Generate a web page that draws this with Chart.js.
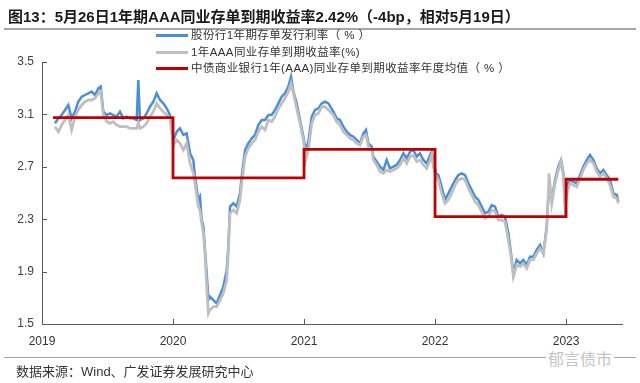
<!DOCTYPE html>
<html><head><meta charset="utf-8">
<script src="https://cdn.jsdelivr.net/npm/chart.js@4.4.0/dist/chart.umd.min.js"></script>
<style>
html,body{margin:0;padding:0;background:#fff;}
#wrap{position:relative;width:640px;height:383px;overflow:hidden;font-family:"Liberation Sans","Noto Sans CJK SC",sans-serif;color:#222;}
canvas{position:absolute;left:0;top:0;}
#title{position:absolute;left:8px;top:7px;line-height:20px;font-size:15px;font-weight:bold;white-space:nowrap;color:#1a1a1a;}
.rule{position:absolute;left:4px;width:632px;background:#A6A6A6;}
#legend{position:absolute;left:156px;top:27px;font-size:11.5px;letter-spacing:0.4px;color:#333;}
#legend .row{height:16.7px;line-height:16.7px;display:flex;align-items:center;white-space:pre;}
#legend .sw{display:inline-block;width:32px;height:3px;margin-right:3px;}
#source{position:absolute;left:16px;top:363px;font-size:13px;line-height:18px;color:#333;white-space:nowrap;}
#wm{position:absolute;left:546px;top:350px;font-size:16px;line-height:20px;color:#C4C4C4;background:#fff;padding:0 2px;}
</style></head><body>
<div id="wrap">
<canvas id="c" width="640" height="383"></canvas>
<div id="title">图13：5月26日1年期AAA同业存单到期收益率2.42%（-4bp，相对5月19日）</div>
<div class="rule" style="top:28px;height:2px"></div>
<div id="legend"></div>
<div class="rule" style="top:357px;height:1px"></div>
<div id="source">数据来源：Wind、广发证券发展研究中心</div>
<div id="wm">郁言债市</div>
</div>
<script>
const dates = [
2019.099,2019.125,2019.150,2019.176,2019.201,2019.226,2019.252,2019.277,2019.303,2019.328,
2019.354,2019.379,2019.405,2019.430,2019.448,2019.468,2019.494,2019.519,2019.545,2019.570,
2019.595,2019.621,2019.646,2019.672,2019.697,2019.723,2019.735,2019.748,2019.774,2019.799,
2019.824,2019.850,2019.875,2019.901,2019.926,2019.952,2019.977,2020.003,2020.028,2020.053,
2020.079,2020.104,2020.130,2020.155,2020.168,2020.193,2020.206,2020.219,2020.232,2020.244,
2020.257,2020.270,2020.282,2020.308,2020.333,2020.359,2020.384,2020.410,2020.422,2020.435,
2020.461,2020.486,2020.511,2020.524,2020.550,2020.575,2020.601,2020.626,2020.651,2020.677,
2020.702,2020.728,2020.753,2020.779,2020.804,2020.830,2020.855,2020.880,2020.901,2020.919,
2020.944,2020.969,2020.995,2021.013,2021.033,2021.059,2021.084,2021.109,2021.135,2021.160,
2021.186,2021.224,2021.249,2021.275,2021.300,2021.326,2021.351,2021.377,2021.402,2021.427,
2021.453,2021.473,2021.491,2021.517,2021.529,2021.555,2021.580,2021.606,2021.631,2021.656,
2021.682,2021.707,2021.733,2021.758,2021.784,2021.809,2021.835,2021.860,2021.885,2021.911,
2021.936,2021.962,2021.975,2021.987,2022.008,2022.025,2022.051,2022.076,2022.102,2022.127,
2022.153,2022.178,2022.204,2022.229,2022.254,2022.280,2022.305,2022.331,2022.356,2022.382,
2022.407,2022.433,2022.458,2022.483,2022.509,2022.534,2022.560,2022.580,2022.598,2022.623,
2022.649,2022.674,2022.700,2022.725,2022.751,2022.776,2022.802,2022.827,2022.852,2022.865,
2022.870,2022.891,2022.916,2022.941,2022.962,2022.980,2022.992,2023.013,2023.031,2023.056,
2023.081,2023.107,2023.132,2023.158,2023.183,2023.209,2023.234,2023.260,2023.285,2023.310,
2023.336,2023.361,2023.387,2023.399];
const blueValues = [
3.032,3.070,3.095,3.134,3.172,3.070,3.121,3.197,3.235,3.248,
3.261,3.274,3.248,3.299,3.312,3.121,3.095,3.108,3.095,3.083,
3.121,3.070,3.083,3.070,3.070,3.057,3.363,3.057,3.070,3.108,
3.159,3.197,3.261,3.210,3.184,3.146,3.095,2.905,2.968,2.994,
2.943,2.955,2.803,2.752,2.625,2.447,2.472,2.294,2.243,2.065,
1.887,1.683,1.709,1.683,1.658,1.721,1.785,1.912,2.090,2.396,
2.421,2.396,2.497,2.625,2.828,2.879,2.917,2.943,3.019,3.057,
3.057,3.095,3.095,3.134,3.184,3.235,3.261,3.312,3.388,3.274,
3.184,3.057,2.930,2.828,2.892,3.083,3.134,3.146,3.184,3.197,
3.184,3.121,3.070,3.057,3.006,2.968,2.943,2.930,2.905,2.879,
2.955,2.981,2.879,2.854,2.777,2.739,2.701,2.676,2.752,2.688,
2.701,2.714,2.752,2.803,2.765,2.816,2.828,2.777,2.803,2.752,
2.726,2.790,2.816,2.752,2.650,2.637,2.548,2.447,2.497,2.548,
2.599,2.637,2.650,2.637,2.574,2.523,2.472,2.447,2.396,2.345,
2.358,2.408,2.396,2.319,2.332,2.319,2.192,2.039,1.887,1.989,
1.963,1.989,1.950,2.014,2.014,2.065,2.103,2.039,2.243,2.472,
2.497,2.447,2.599,2.701,2.752,2.650,2.421,2.574,2.599,2.586,
2.574,2.637,2.701,2.752,2.790,2.752,2.688,2.650,2.676,2.637,
2.599,2.497,2.485,2.434];
const grayValues = [
3.006,2.968,3.019,3.057,3.095,2.981,3.083,3.134,3.172,3.197,
3.210,3.210,3.223,3.261,3.274,3.095,3.045,3.032,3.045,3.019,
3.006,3.006,3.006,2.994,2.994,2.994,3.032,2.994,3.006,3.032,
3.083,3.121,3.184,3.146,3.121,3.095,3.070,2.866,2.905,2.879,
2.828,2.879,2.726,2.650,2.574,2.396,2.370,2.268,2.192,2.039,
1.785,1.581,1.607,1.632,1.632,1.683,1.734,1.836,2.039,2.345,
2.370,2.345,2.447,2.574,2.777,2.841,2.879,2.905,2.968,3.006,
2.981,3.057,3.045,3.083,3.146,3.184,3.223,3.274,3.337,3.261,
3.146,3.032,2.905,2.752,2.828,3.032,3.095,3.108,3.159,3.159,
3.134,3.095,3.045,3.019,2.968,2.943,2.917,2.905,2.879,2.866,
2.930,2.943,2.854,2.828,2.752,2.714,2.663,2.650,2.676,2.663,
2.676,2.688,2.714,2.765,2.726,2.777,2.790,2.739,2.752,2.714,
2.688,2.752,2.790,2.701,2.625,2.599,2.497,2.421,2.447,2.497,
2.561,2.599,2.612,2.599,2.536,2.485,2.434,2.408,2.358,2.307,
2.319,2.370,2.358,2.294,2.294,2.281,2.141,2.014,1.861,1.950,
1.938,1.963,1.925,1.989,1.989,2.039,2.078,2.039,2.218,2.497,
2.650,2.421,2.574,2.676,2.739,2.625,2.396,2.523,2.574,2.561,
2.548,2.612,2.676,2.726,2.752,2.726,2.663,2.625,2.650,2.612,
2.561,2.472,2.459,2.421];
const avgYears = [2019, 2020, 2021, 2022, 2023];
const avgValues = [3.075, 2.615, 2.833, 2.319, 2.605];
const xTicks = [2019, 2020, 2021, 2022, 2023];
const yTicks = [1.5, 1.9, 2.3, 2.7, 3.1, 3.5];
const seriesLabels = [
  '股份行1年期存单发行利率（ % ）',
  '1年AAA同业存单到期收益率(%)',
  '中债商业银行1年(AAA)同业存单到期收益率年度均值（ % ）'
];
const seriesColors = ['#4A8FD6', '#BFBFBF', '#C00000'];

const bluePts = dates.map((d, i) => ({x: d, y: blueValues[i]}));
const grayPts = dates.map((d, i) => ({x: d, y: grayValues[i]}));
const avgPts = [];
avgYears.forEach((yr, i) => {
  const start = i === 0 ? dates[0] - 0.015 : yr;
  const end = i === avgYears.length - 1 ? dates[dates.length - 1] : yr + 1;
  avgPts.push({x: start, y: avgValues[i]}, {x: end, y: avgValues[i]});
});

// legend
const lg = document.getElementById('legend');
seriesLabels.forEach((t, i) => {
  const r = document.createElement('div'); r.className = 'row';
  const s = document.createElement('span'); s.className = 'sw'; s.style.background = seriesColors[i];
  const tx = document.createElement('span'); tx.textContent = t;
  r.appendChild(s); r.appendChild(tx); lg.appendChild(r);
});

const inwardTicks = {
  id: 'inwardTicks',
  afterDraw(chart) {
    const {ctx, chartArea: a, scales: {x, y}} = chart;
    ctx.save();
    ctx.strokeStyle = '#595959'; ctx.lineWidth = 1;
    ctx.beginPath();
    xTicks.forEach(v => { const px = Math.round(x.getPixelForValue(v)) + 0.5; ctx.moveTo(px, a.bottom); ctx.lineTo(px, a.bottom - 5); });
    yTicks.forEach(v => { const py = Math.round(y.getPixelForValue(v)) + 0.5; ctx.moveTo(a.left, py); ctx.lineTo(a.left + 5, py); });
    ctx.stroke();
    ctx.restore();
  }
};

new Chart(document.getElementById('c'), {
  type: 'line',
  data: {
    datasets: [
      {label: seriesLabels[0], data: bluePts, borderColor: seriesColors[0], borderWidth: 2.5, pointRadius: 0, tension: 0, order: 2},
      {label: seriesLabels[1], data: grayPts, borderColor: seriesColors[1], borderWidth: 2.8, pointRadius: 0, tension: 0, order: 1},
      {label: seriesLabels[2], data: avgPts, borderColor: seriesColors[2], borderWidth: 2.8, pointRadius: 0, tension: 0, order: 0}
    ]
  },
  options: {
    responsive: false,
    animation: false,
    events: [],
    layout: {padding: {top: 62, right: 18, left: 0, bottom: 0}},
    plugins: {legend: {display: false}, tooltip: {enabled: false}},
    scales: {
      x: {
        type: 'linear', min: 2019, max: 2023.427,
        afterBuildTicks: s => { s.ticks = xTicks.map(v => ({value: v})); },
        afterFit: s => { s.height = 59; },
        grid: {display: false, drawTicks: false},
        border: {display: true, color: '#595959', width: 1},
        ticks: {padding: 10, color: '#333', font: {family: 'Liberation Sans', size: 12}, callback: v => String(v), maxRotation: 0, autoSkip: false}
      },
      y: {
        min: 1.5, max: 3.5,
        afterBuildTicks: s => { s.ticks = yTicks.map(v => ({value: v})); },
        afterFit: s => { s.width = 42; },
        grid: {display: false, drawTicks: false},
        border: {display: true, color: '#595959', width: 1},
        ticks: {padding: 8, color: '#404040', font: {family: 'Liberation Sans', size: 12}, callback: v => Number(v).toFixed(1)}
      }
    }
  },
  plugins: [inwardTicks]
});
</script>
</body></html>
